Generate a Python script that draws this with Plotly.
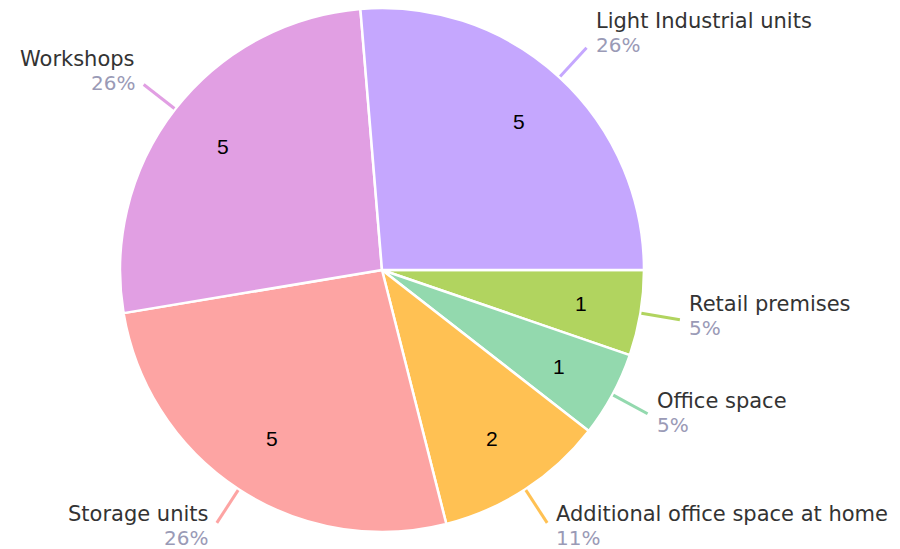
import math
import plotly.graph_objects as go

# Slices, listed clockwise starting at 3 o'clock
LABELS = [
    "Retail premises",
    "Office space",
    "Additional office space at home",
    "Storage units",
    "Workshops",
    "Light Industrial units",
]
VALUES = [1, 1, 2, 5, 5, 5]
COLORS = ["#b1d45f", "#93d9ae", "#ffc153", "#fda4a3", "#e19fe3", "#c5a7fe"]

W, H = 900, 549
FONT = "DejaVu Sans"
NAME_COLOR = "#333333"
PCT_COLOR = "#9a9ab6"

# pie geometry in figure pixels (page body adds an 8px margin)
CX, CY, R = 374, 262, 262

fig = go.Figure(
    go.Pie(
        labels=LABELS,
        values=VALUES,
        sort=False,
        direction="clockwise",
        rotation=90,
        marker=dict(colors=COLORS, line=dict(color="white", width=2.5)),
        textinfo="none",
        hoverinfo="label+value+percent",
        domain=dict(
            x=[(CX - R) / W, (CX + R) / W],
            y=[(H - CY - R) / H, (H - CY + R) / H],
        ),
    )
)

# value labels inside and outside labels with short leader lines
total = sum(VALUES)
start = 0.0
shapes = []
annotations = []
for name, val, col in zip(LABELS, VALUES, COLORS):
    span = val / total * 360
    theta = math.radians(start + span / 2)
    start += span
    dx, dy = math.cos(theta), math.sin(theta)

    # value inside the slice
    vx, vy = CX + 0.77 * R * dx, CY + 0.77 * R * dy
    annotations.append(dict(
        xref="paper", yref="paper",
        x=vx / W, y=1 - vy / H,
        xanchor="center", yanchor="middle",
        text=str(val), showarrow=False,
        font=dict(family="Liberation Sans, Arial", size=21, color="black"),
    ))

    x0, y0 = CX + (R + 1) * dx, CY + (R + 1) * dy
    x1, y1 = CX + (R + 40) * dx, CY + (R + 40) * dy
    shapes.append(dict(
        type="line", xref="paper", yref="paper",
        x0=x0 / W, y0=1 - y0 / H, x1=x1 / W, y1=1 - y1 / H,
        line=dict(color=col, width=3),
    ))
    right = dx > 0
    pct = round(val / total * 100)
    yc = y1 - 6 + 11.5 * dy  # block centre in pixels
    common = dict(
        xref="paper", yref="paper", x=x1 / W,
        xanchor="left" if right else "right", yanchor="middle",
        xshift=7 if right else -7, showarrow=False,
    )
    annotations.append(dict(
        common, y=1 - (yc - 12) / H, text=name,
        font=dict(family=FONT, size=21, color=NAME_COLOR),
    ))
    annotations.append(dict(
        common, y=1 - (yc + 12) / H, text=f"{pct}%",
        font=dict(family=FONT, size=20, color=PCT_COLOR),
    ))

fig.update_layout(
    width=W,
    height=H,
    margin=dict(l=0, r=0, t=0, b=0),
    paper_bgcolor="white",
    plot_bgcolor="white",
    showlegend=False,
    shapes=shapes,
    annotations=annotations,
)

fig.write_html("out.html")
